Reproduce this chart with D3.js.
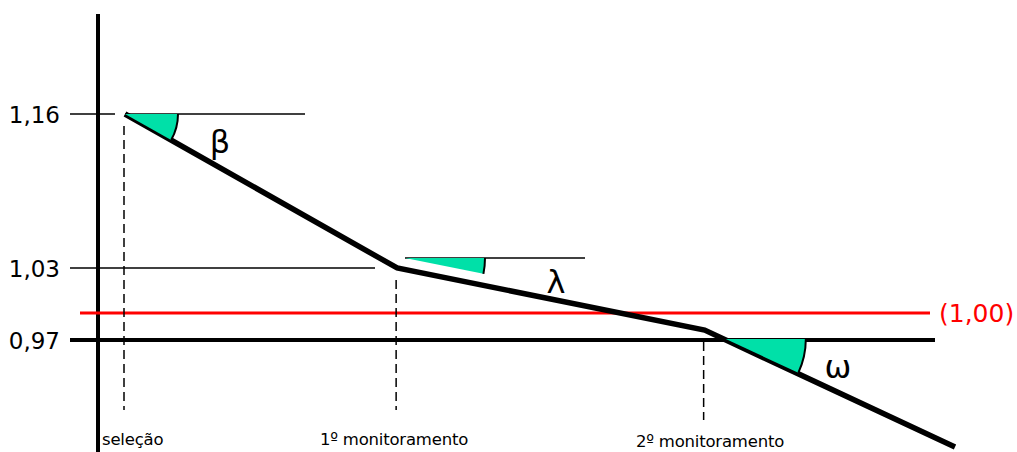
<!DOCTYPE html>
<html>
<head>
<meta charset="utf-8">
<script src="https://cdn.jsdelivr.net/npm/d3@7"></script>
<style>
  body { margin: 0; background: #fff; }
  text { font-family: "DejaVu Sans", Verdana, sans-serif; }
</style>
</head>
<body>
<svg id="chart" width="1017" height="452"></svg>
<script>
// etapas e valores
var stages = ["seleção", "1º monitoramento", "2º monitoramento", ""];
var stageTimes = [0, 1, 2.13, 3.05];
var stageValues = [1.16, 1.03, 0.981, 0.851];
var yTicks = [1.16, 1.03, 0.97];
var yTickLabels = ["1,16", "1,03", "0,97"];
var refValue = 1.00, refLabel = "(1,00)";
var angleLetters = ["β", "λ", "ω"];

var svg = d3.select("#chart");

var xScale = d3.scaleLinear()
	.domain([0, 3.05])
	.range([125, 955]);

// escala por partes (o desenho original não é proporcional)
var yScale = d3.scaleLinear()
	.domain([0.97, 1.00, 1.03, 1.16])
	.range([340, 313, 268, 114]);

var pts = stageTimes.map((t, i) => [xScale(t), yScale(stageValues[i])]);
var axisX = 98;

// eixo vertical
svg.append('line')
	.attr('x1', axisX).attr('x2', axisX)
	.attr('y1', 14).attr('y2', 452)
	.attr('stroke', '#000').attr('stroke-width', 4);

// linhas das marcas
svg.append('line')
	.attr('x1', 70).attr('x2', 115)
	.attr('y1', yScale(1.16)).attr('y2', yScale(1.16))
	.attr('stroke', '#000').attr('stroke-width', 1.5);
svg.append('line')
	.attr('x1', pts[0][0]).attr('x2', 305)
	.attr('y1', yScale(1.16)).attr('y2', yScale(1.16))
	.attr('stroke', '#000').attr('stroke-width', 1.5);
svg.append('line')
	.attr('x1', 70).attr('x2', 375)
	.attr('y1', yScale(1.03)).attr('y2', yScale(1.03))
	.attr('stroke', '#000').attr('stroke-width', 1.5);
svg.append('line')
	.attr('x1', 405).attr('x2', 585)
	.attr('y1', yScale(1.03) - 10).attr('y2', yScale(1.03) - 10)
	.attr('stroke', '#000').attr('stroke-width', 1.5);
svg.append('line')
	.attr('x1', 70).attr('x2', 935)
	.attr('y1', yScale(0.97)).attr('y2', yScale(0.97))
	.attr('stroke', '#000').attr('stroke-width', 4);

// rótulos do eixo
svg.selectAll('.ytick')
	.data(yTicks)
	.enter()
	.append('text')
	.classed('ytick', true)
	.attr('x', 60)
	.attr('y', d => yScale(d) + 9)
	.attr('text-anchor', 'end')
	.attr('font-size', '23px')
	.text((d, i) => yTickLabels[i]);

// linha de referência
svg.append('line')
	.attr('x1', 80).attr('x2', 930)
	.attr('y1', yScale(refValue)).attr('y2', yScale(refValue))
	.attr('stroke', '#ff0000').attr('stroke-width', 3);
svg.append('text')
	.attr('x', 939)
	.attr('y', yScale(refValue) + 9)
	.attr('font-size', '25px')
	.attr('fill', '#ff0000')
	.text(refLabel);

// linhas tracejadas
var dashBottom = [410, 410, 420];
svg.selectAll('.drop')
	.data(pts.slice(0, 3))
	.enter()
	.append('line')
	.classed('drop', true)
	.attr('x1', d => d[0] - 1).attr('x2', d => d[0] - 1)
	.attr('y1', d => d[1] + 12)
	.attr('y2', (d, i) => dashBottom[i])
	.attr('stroke', '#000').attr('stroke-width', 1.5)
	.attr('stroke-dasharray', '9,5');

// rótulos das etapas
var labelX = [102, 394, 710];
var labelAnchor = ['start', 'middle', 'middle'];
svg.selectAll('.stage')
	.data(stages.slice(0, 3))
	.enter()
	.append('text')
	.classed('stage', true)
	.attr('x', (d, i) => labelX[i])
	.attr('y', (d, i) => i == 2 ? 447 : 445)
	.attr('text-anchor', (d, i) => labelAnchor[i])
	.attr('font-size', '16.5px')
	.attr('letter-spacing', '-0.2px')
	.text(d => d);

// linha principal
var line = d3.line();
svg.append('path')
	.attr('d', line(pts))
	.attr('fill', 'none')
	.attr('stroke', '#000')
	.attr('stroke-width', 5.5)
	.attr('stroke-linejoin', 'miter');

// ângulos
var slopes = [0, 1, 2].map(i => Math.atan2(pts[i + 1][1] - pts[i][1], pts[i + 1][0] - pts[i][0]));
var x3 = pts[2][0] + (yScale(0.97) - pts[2][1]) / Math.tan(slopes[2]);
var apex = [[pts[0][0], pts[0][1]], [405, yScale(1.03) - 10], [x3, yScale(0.97) - 1]];
var radius = [53, 80, 80];

apex.forEach((a, i) => {
	var r = radius[i], ang = slopes[i];
	var ex = a[0] + r * Math.cos(ang), ey = a[1] + r * Math.sin(ang);
	svg.append('path')
		.attr('d', 'M' + a[0] + ',' + a[1] + 'L' + (a[0] + r) + ',' + a[1] +
			'A' + r + ',' + r + ' 0 0,1 ' + ex + ',' + ey + 'Z')
		.attr('fill', '#00e0a8');
	svg.append('path')
		.attr('d', 'M' + (a[0] + r) + ',' + a[1] + 'A' + r + ',' + r + ' 0 0,1 ' + ex + ',' + ey)
		.attr('fill', 'none')
		.attr('stroke', '#000')
		.attr('stroke-width', 2);
});

// letras gregas
var letterPos = [[220, 153], [556, 293], [838, 378]];
svg.selectAll('.greek')
	.data(angleLetters)
	.enter()
	.append('text')
	.classed('greek', true)
	.attr('x', (d, i) => letterPos[i][0])
	.attr('y', (d, i) => letterPos[i][1])
	.attr('text-anchor', 'middle')
	.attr('font-size', '32px')
	.text(d => d);
</script>
</body>
</html>
